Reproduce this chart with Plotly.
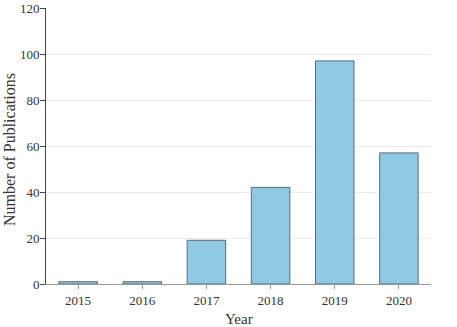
import plotly.graph_objects as go

years = ["2015", "2016", "2017", "2018", "2019", "2020"]
publications = [1, 1, 19, 42, 97, 57]

fig = go.Figure()
fig.add_trace(go.Bar(x=years, y=publications,
                     marker=dict(color="#8ecae6",
                                 line=dict(color="#5b6b75", width=1))))

fig.update_layout(width=457, height=327,
                  margin=dict(l=46, r=26, t=8, b=43),
                  plot_bgcolor="white", paper_bgcolor="white",
                  font=dict(family="Liberation Serif", size=13, color="#333333"),
                  bargap=0.4, showlegend=False)

fig.update_xaxes(automargin=False,
                 showline=True, linecolor="#999999", linewidth=1,
                 ticks="outside", ticklen=4, tickcolor="#999999",
                 showgrid=False, range=[-0.5, 5.5])
fig.update_yaxes(automargin=False,
                 range=[0, 120], dtick=20,
                 showline=True, linecolor="#444444", linewidth=1,
                 ticks="outside", ticklen=5, tickcolor="#444444",
                 ticklabelstandoff=-2,
                 showgrid=True, gridcolor="#ebebeb", zeroline=False)

# axis titles placed as annotations so they sit where the original has them
fig.add_annotation(text="Year", xref="paper", yref="paper", x=0.5, y=0,
                   yshift=-35, yanchor="middle", showarrow=False,
                   font=dict(size=15))
fig.add_annotation(text="Number of Publications", xref="paper", yref="paper",
                   x=0, y=0.5, xshift=-37, yshift=-4, textangle=-90,
                   xanchor="center", showarrow=False, font=dict(size=16))

# page body has an 8px default margin; drop it so the figure sits at 0,0
fig.write_html("out.html", config={"displayModeBar": False},
               post_script="document.body.style.margin='0';")
